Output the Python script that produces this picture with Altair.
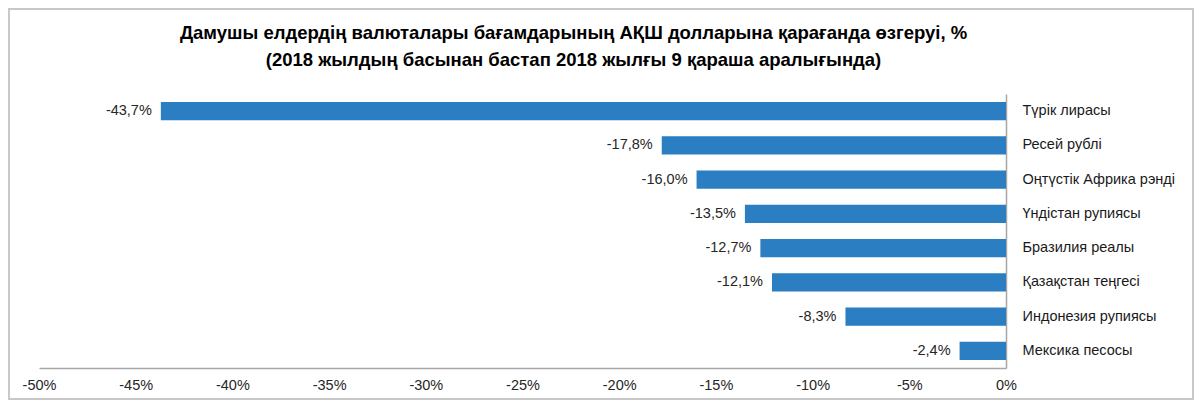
import altair as alt
import pandas as pd

categories = [
    "Түрік лирасы",
    "Ресей рублі",
    "Оңтүстік Африка рэнді",
    "Үндістан рупиясы",
    "Бразилия реалы",
    "Қазақстан теңгесі",
    "Индонезия рупиясы",
    "Мексика песосы",
]
values = [-43.7, -17.8, -16.0, -13.5, -12.7, -12.1, -8.3, -2.4]
tick_values = [-50, -45, -40, -35, -30, -25, -20, -15, -10, -5, 0]
title_lines = [
    "Дамушы елдердің  валюталары бағамдарының АҚШ долларына қарағанда өзгеруі, %",
    "(2018 жылдың басынан бастап 2018 жылғы 9 қараша  аралығында)",
]

df = pd.DataFrame({"cat": categories, "val": values})
df["label"] = [f"{v:.1f}".replace(".", ",") + "%" for v in values]

FONT = "Liberation Sans"
W, H = 967, 274
PL, PT, PR, PB = 31, 86, 188, 32

base = alt.Chart(df)

y_enc = alt.Y(
    "cat:N",
    sort=categories,
    scale=alt.Scale(paddingInner=0.47, paddingOuter=0.235),
    axis=alt.Axis(
        orient="right", title=None, ticks=False, labelPadding=16,
        domainColor="#a6a6a6", domainWidth=1.5, labelFont=FONT, labelFontSize=14.5,
        labelColor="#1a1a1a", labelAlign="left", labelLimit=0,
    ),
)
x_enc = alt.X(
    "val:Q",
    scale=alt.Scale(domain=[-50, 0], nice=False),
    axis=alt.Axis(
        values=tick_values, labelExpr="datum.value + '%'", grid=False, ticks=False,
        title=None, labelPadding=10, labelFlush=False, labelOverlap=False,
        domainColor="#a6a6a6", domainWidth=1.5,
        labelFont=FONT, labelFontSize=14.5, labelColor="#262626",
    ),
)

bars = base.mark_bar(color="#2A7EC1").encode(y=y_enc, x=x_enc)
labels = base.mark_text(align="right", baseline="middle", dx=-9, font=FONT,
                        fontSize=14.5, color="#262626").encode(
    y=alt.Y("cat:N", sort=categories), x="val:Q", text="label:N")

border = alt.Chart(pd.DataFrame({"a": [0]})).mark_rect(
    fillOpacity=0, stroke="#c8c8c8", strokeWidth=2
).encode(
    x=alt.value(-PL + 1), x2=alt.value(W + PR - 1),
    y=alt.value(-PT + 1), y2=alt.value(H + PB - 1),
)

chart = alt.layer(border, bars, labels).properties(
    width=W, height=H,
    padding={"left": PL, "top": PT, "right": PR, "bottom": PB},
    autosize=alt.AutoSizeParams(type="none"),
    title=alt.TitleParams(
        text=title_lines, font=FONT, fontSize=18.5, fontWeight="bold", color="#000000",
        anchor="middle", dx=51, offset=0, dy=61, lineHeight=27,
    ),
).configure_view(stroke=None)

chart.save("out.html", embed_options={"renderer": "svg", "actions": False})
